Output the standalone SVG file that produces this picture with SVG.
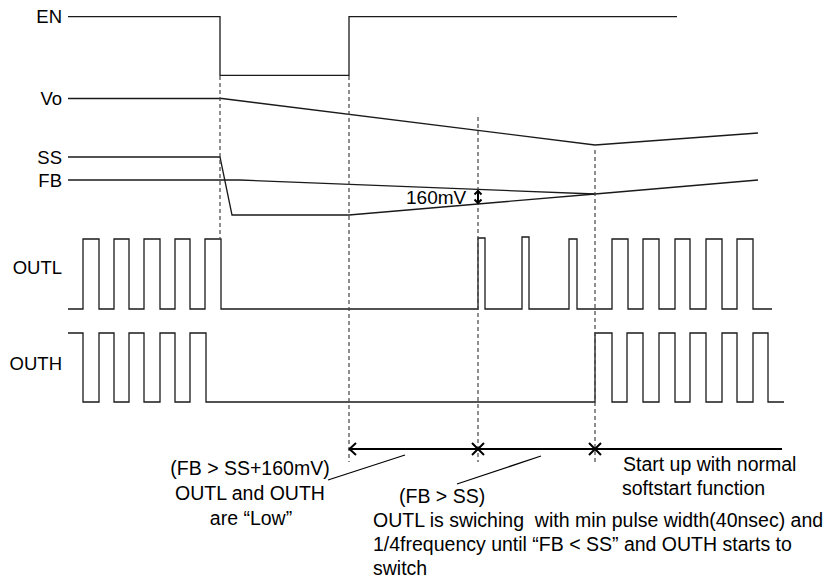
<svg xmlns="http://www.w3.org/2000/svg" width="832" height="583" viewBox="0 0 832 583">
<defs>
<style>
.lbl{font-family:"Liberation Sans",Arial,sans-serif;font-size:18.5px;fill:#000;text-anchor:end}
.ann{font-family:"Liberation Sans",Arial,sans-serif;font-size:19.5px;fill:#000;white-space:pre}
.wave{fill:none;stroke:#1a1a1a;stroke-width:1.3;stroke-linejoin:miter}
.dash{fill:none;stroke:#444;stroke-width:1.2;stroke-dasharray:4 3}
.arr{fill:none;stroke:#000;stroke-width:2}
.thin{fill:none;stroke:#000;stroke-width:1.2}
</style>
</defs>
<rect width="832" height="583" fill="#fff"/>

<g id="EN">
<text class="lbl" x="62" y="23">EN</text>
<path class="wave" stroke="#444" d="M68,16.7 H220 V75.3 H349 V16.7 H677"/>
</g>
<g id="Vo">
<text class="lbl" x="62" y="105">Vo</text>
<path class="wave" d="M68,98.5 H222 L595,145 L758,133"/>
</g>
<g id="SS">
<text class="lbl" x="62" y="163.5">SS</text>
<path class="wave" d="M68,157 H220 L232,215 H349 L595,194 L758,180"/>
</g>
<g id="FB">
<text class="lbl" x="62" y="187">FB</text>
<path class="wave" d="M68,180 H240 L595,194"/>
</g>
<g id="OUTL">
<text class="lbl" x="62" y="273.5">OUTL</text>
<path class="wave" d="M68,309 H83 V239 H99 V309 H114 V239 H129 V309 H144 V239 H160 V309 H175 V239 H190 V309 H205 V239 H221 V309 H478 V238 H485 V309 H522 V237 H529 V309 H569 V239 H577 V309 H612 V239 H628 V309 H643 V239 H659 V309 H675 V239 H690 V309 H706 V239 H722 V309 H737 V239 H753 V309 H772"/>
</g>
<g id="OUTH">
<text class="lbl" x="62" y="370">OUTH</text>
<path class="wave" d="M68,333 H83 V402 H99 V333 H114 V402 H129 V333 H144 V402 H160 V333 H175 V402 H190 V333 H206 V402 H595 V333 H612 V402 H627 V333 H643 V402 H659 V333 H675 V402 H690 V333 H706 V402 H722 V333 H737 V402 H753 V333 H768 V402 H784"/>
</g>

<g id="connectors">
<path class="dash" d="M220,76 V238"/>
<path class="dash" d="M349,76 V462"/>
<path class="dash" d="M478,117 V462"/>
<path class="dash" d="M595,150 V462"/>
<path class="arr" d="M349,449 H782"/>
<path class="arr" d="M356,443 L349.5,449 L356,455"/>
<path class="arr" d="M472,443 L484,455 M472,455 L484,443"/>
<path class="arr" d="M589,443 L601,455 M589,455 L601,443"/>
<path class="thin" d="M328,480 L405,455"/>
<path class="thin" d="M457,484 L541,456"/>
<path class="arr" stroke-width="1.6" d="M478,191 V203 M474.5,194.5 L478,191 L481.5,194.5 M474.5,199.5 L478,203 L481.5,199.5"/>
</g>

<g id="annotations">
<text class="ann" x="406" y="204" style="font-size:19px">160mV</text>
<text class="ann" x="250" y="475" text-anchor="middle">(FB &gt; SS+160mV)</text>
<text class="ann" x="250" y="500" text-anchor="middle">OUTL and OUTH</text>
<text class="ann" x="251" y="525" text-anchor="middle">are “Low”</text>
<text class="ann" x="399" y="503">(FB &gt; SS)</text>
<text class="ann" x="373" y="527">OUTL is swiching  with min pulse width(40nsec) and</text>
<text class="ann" x="373" y="551">1/4frequency until “FB &lt; SS” and OUTH starts to</text>
<text class="ann" x="373" y="575">switch</text>
<text class="ann" x="623" y="471">Start up with normal</text>
<text class="ann" x="622" y="495">softstart function</text>
</g>
</svg>
